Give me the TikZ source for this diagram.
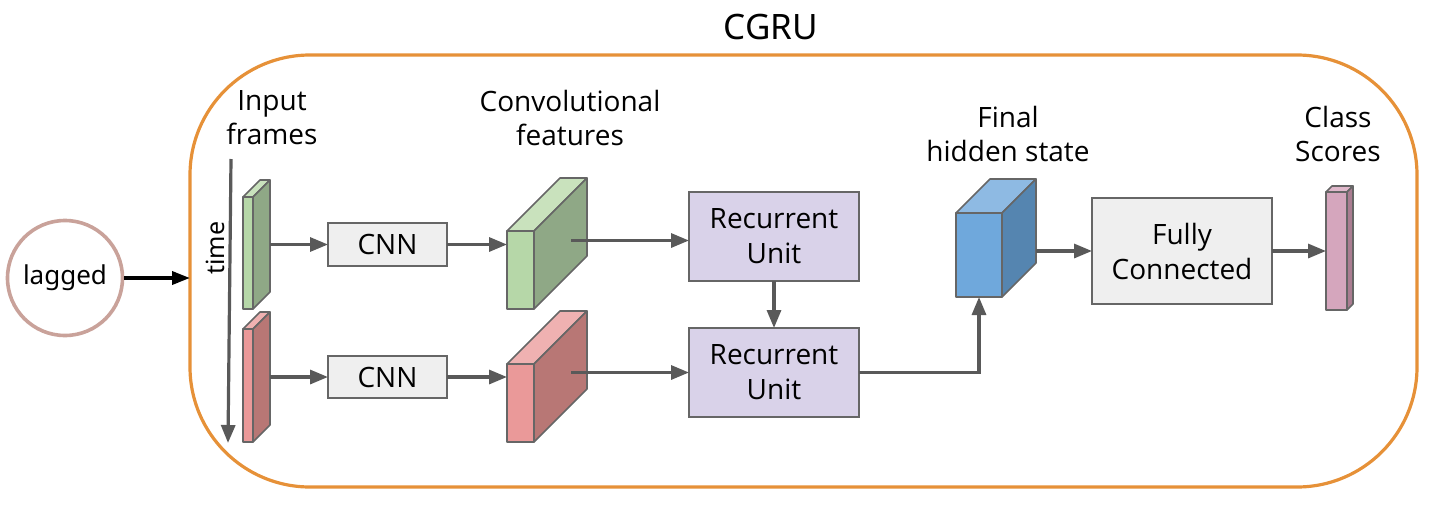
\documentclass[tikz,border=0pt]{standalone}
\usepackage{fontspec}
\setmainfont{Open Sans}
\newfontfamily\notofont{Noto Sans}
\usetikzlibrary{arrows.meta,calc}
\definecolor{orangec}{HTML}{E69138}
\definecolor{circlecol}{HTML}{C9A29A}
\definecolor{arrowgray}{HTML}{595959}
\definecolor{boxline}{HTML}{666666}
\definecolor{boxfill}{HTML}{EFEFEF}
\definecolor{rufill}{HTML}{D9D2E9}
\definecolor{gfront}{HTML}{B6D7A8}
\definecolor{gside}{HTML}{8FA886}
\definecolor{gtop}{HTML}{C9E2BD}
\definecolor{rfront}{HTML}{EA9999}
\definecolor{rside}{HTML}{B87775}
\definecolor{rtop}{HTML}{EFB1B1}
\definecolor{bfront}{HTML}{6FA8DC}
\definecolor{bside}{HTML}{5585B0}
\definecolor{btop}{HTML}{8EBAE3}
\definecolor{pfront}{HTML}{D5A6BD}
\definecolor{pside}{HTML}{AA7D91}
\definecolor{ptop}{HTML}{E0B8CB}
\tikzset{
  cubeline/.style={draw=boxline, line width=1.6pt, line join=round},
  cubeface/.style={cubeline, rectangle, inner sep=0pt, outer sep=0pt},
  procbox/.style={draw=boxline, line width=1.6pt, rectangle, inner sep=0pt, outer sep=0pt, align=center, font=\fontsize{28}{35}\selectfont},
  arr/.style={draw=arrowgray, line width=3.2pt, -{Triangle[length=18pt,width=14pt]}},
  lbl/.style={inner sep=0pt, align=center, font=\fontsize{28}{34}\selectfont},
}
% name, x1, y1, x2, y2, depth, front, side, top
\newcommand{\mycube}[9]{%
  \node[cubeface, fill=#7, minimum width={#4-#2}, minimum height={#5-#3}] (#1) at ({(#2+#4)/2},{(#3+#5)/2}) {};
  \filldraw[cubeline, fill=#9] (#1.north west) -- ++(#6,-#6) -- ($(#1.north east)+(#6,-#6)$) -- (#1.north east) -- cycle;
  \filldraw[cubeline, fill=#8] (#1.north east) -- ++(#6,-#6) -- ($(#1.south east)+(#6,-#6)$) -- (#1.south east) -- cycle;
}
\begin{document}
\begin{tikzpicture}[x=1pt,y=-1pt]
\useasboundingbox (0,0) rectangle (1435,509);

% container
\node[draw=orangec, line width=3.2pt, rounded corners=120pt, minimum width=1227pt, minimum height=432pt, inner sep=0pt, outer sep=0pt] (cgru) at (803.5,271) {};
\node[inner sep=0pt, font=\notofont\fontsize{35}{42}\selectfont] (title) at (771,27) {CGRU};

% lagged input
\node[circle, draw=circlecol, line width=3.6pt, minimum size=115pt, inner sep=0pt, font=\notofont\fontsize{26}{30}\selectfont] (lagged) at (65,278) {lagged};
\draw[line width=3.6pt, -{Triangle[length=18pt,width=13pt]}] (lagged.east) -- (lagged.east -| cgru.west);

% time axis
\coordinate (tstart) at (231,159);
\coordinate (tend) at (228,443);
\draw[arr] (tstart) -- (tend);
\node[rotate=90, inner sep=0pt, font=\notofont\fontsize{25}{30}\selectfont] (timelbl) at (215,248) {time};

% labels
\node[lbl] (linput) at (272,118) {Input\\frames};
\node[lbl] (lconv) at (570,118) {Convolutional\\features};
\node[lbl] (lfinal) at (1008,134) {Final\\hidden state};
\node[lbl] (lclass) at (1338,134) {Class\\Scores};

% input frames
\mycube{f1}{243}{197}{253}{309}{17}{gfront}{gside}{gtop}
\mycube{f2}{243}{329}{253}{442}{17}{rfront}{rside}{rtop}

% CNNs
\node[procbox, fill=boxfill, minimum width=119pt, minimum height=43pt] (cnn1) at (387.5,244.5) {CNN};
\node[procbox, fill=boxfill, minimum width=119pt, minimum height=42pt] (cnn2) at (387.5,377) {CNN};

% conv features
\mycube{c1}{507}{231}{534}{309}{53}{gfront}{gside}{gtop}
\mycube{c2}{507}{364}{534}{442}{53}{rfront}{rside}{rtop}

% recurrent units
\node[procbox, fill=rufill, minimum width=170pt, minimum height=89pt] (ru1) at (774,236.5) {Recurrent\\Unit};
\node[procbox, fill=rufill, minimum width=170pt, minimum height=89pt] (ru2) at (774,372.5) {Recurrent\\Unit};

% final hidden state
\mycube{fh}{956}{213}{1002}{297}{34}{bfront}{bside}{btop}

% fully connected
\node[procbox, fill=boxfill, minimum width=180pt, minimum height=106pt] (fc) at (1182,251) {Fully\\Connected};

% class scores
\mycube{cs}{1326}{192}{1347}{310}{6}{pfront}{pside}{ptop}

% connectors
\coordinate (f1out) at (270,244.5);
\coordinate (f2out) at (270,377);
\draw[arr] (f1out) -- (cnn1.west);
\draw[arr] (f2out) -- (cnn2.west);
\draw[arr] (cnn1.east) -- (cnn1.east -| c1.west);
\draw[arr] (cnn2.east) -- (cnn2.east -| c2.west);
\coordinate (c1out) at (571,240.5);
\coordinate (c2out) at (571,372.5);
\draw[arr] (c1out) -- (c1out -| ru1.west);
\draw[arr] (c2out) -- (c2out -| ru2.west);
\draw[arr] (ru1.south) -- (ru2.north);
\draw[arr] (ru2.east) -| (fh.south);
\coordinate (fhout) at (1036,251);
\draw[arr] (fhout) -- (fc.west);
\draw[arr] (fc.east) -- (cs.west);
\end{tikzpicture}
\end{document}
